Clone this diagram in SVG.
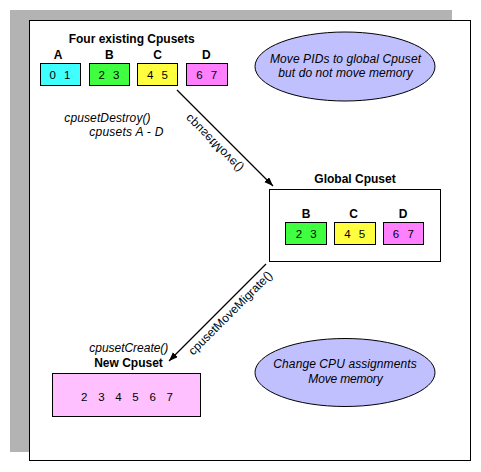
<svg xmlns="http://www.w3.org/2000/svg" width="481" height="472" viewBox="0 0 481 472">
<defs>
<style>
.t{font-family:"Liberation Sans",Arial,sans-serif;fill:#000}
.b{font-weight:bold;font-size:12px}
.i{font-style:italic;font-size:12px}
.n{font-size:11.5px;word-spacing:5px}
.box{stroke:#000;stroke-width:1}
.ell{fill:#C0C0FF;stroke:#000;stroke-width:1}
.con{stroke:#000;stroke-width:1.2;fill:none;marker-end:url(#ah)}
</style>
<marker id="ah" markerUnits="userSpaceOnUse" markerWidth="10" markerHeight="8" refX="9" refY="3.5" orient="auto">
<path d="M0,0 L9,3.5 L0,7 z" fill="#000"/>
</marker>
</defs>
<rect x="10" y="10" width="442" height="442" fill="#B3B3B3"/>
<rect x="29.5" y="20.5" width="441" height="440" fill="#fff" stroke="#000"/>

<g id="existing">
<text class="t b" x="131.7" y="43.3" text-anchor="middle">Four existing Cpusets</text>
<g id="A">
<text class="t b" x="58" y="58.7" text-anchor="middle">A</text>
<rect class="box" x="40.5" y="63.5" width="40" height="22" fill="#40FFFF"/>
<text class="t n" x="60" y="79.3" text-anchor="middle">0 1</text>
</g>
<g id="B">
<text class="t b" x="109.3" y="58.7" text-anchor="middle">B</text>
<rect class="box" x="89.5" y="63.5" width="40" height="22" fill="#40FF40"/>
<text class="t n" x="109" y="79.3" text-anchor="middle">2 3</text>
</g>
<g id="C">
<text class="t b" x="157.7" y="58.7" text-anchor="middle">C</text>
<rect class="box" x="137.5" y="63.5" width="40" height="22" fill="#FFFF40"/>
<text class="t n" x="157.5" y="79.3" text-anchor="middle">4 5</text>
</g>
<g id="D">
<text class="t b" x="206.3" y="58.7" text-anchor="middle">D</text>
<rect class="box" x="186.5" y="63.5" width="41" height="22" fill="#FF80FF"/>
<text class="t n" x="206.7" y="79.3" text-anchor="middle">6 7</text>
</g>
</g>

<g id="destroy">
<text class="t i" x="64.3" y="121.7" textLength="86.3">cpusetDestroy()</text>
<text class="t i" x="89.3" y="136" textLength="74">cpusets A - D</text>
</g>

<g id="note1">
<ellipse class="ell" cx="345" cy="66.5" rx="90" ry="34.5"/>
<text class="t i" x="345.5" y="63.3" text-anchor="middle" textLength="151">Move PIDs to global Cpuset</text>
<text class="t i" x="345.5" y="77.3" text-anchor="middle" textLength="134.3">but do not move memory</text>
</g>

<g id="global">
<text class="t b" x="355" y="183.3" text-anchor="middle">Global Cpuset</text>
<rect x="269.5" y="189.5" width="171" height="72" fill="#fff" stroke="#000"/>
<g id="gB">
<text class="t b" x="306" y="218.3" text-anchor="middle">B</text>
<rect class="box" x="285.5" y="222.5" width="41" height="22" fill="#40FF40"/>
<text class="t n" x="306.2" y="238.3" text-anchor="middle">2 3</text>
</g>
<g id="gC">
<text class="t b" x="353.7" y="218.3" text-anchor="middle">C</text>
<rect class="box" x="334.5" y="222.5" width="41" height="22" fill="#FFFF40"/>
<text class="t n" x="354.7" y="238.3" text-anchor="middle">4 5</text>
</g>
<g id="gD">
<text class="t b" x="403" y="218.3" text-anchor="middle">D</text>
<rect class="box" x="383.5" y="222.5" width="40" height="22" fill="#FF80FF"/>
<text class="t n" x="403.3" y="238.3" text-anchor="middle">6 7</text>
</g>
</g>

<g id="new">
<text class="t i" x="89.3" y="351.7" textLength="79">cpusetCreate()</text>
<text class="t b" x="128.5" y="366.7" text-anchor="middle">New Cpuset</text>
<rect class="box" x="52.5" y="373.5" width="148" height="43" fill="#FFC0FF"/>
<text class="t" x="127" y="400.7" text-anchor="middle" style="font-size:11.5px;word-spacing:7.5px">2 3 4 5 6 7</text>
</g>

<g id="note2">
<ellipse class="ell" cx="345" cy="372.5" rx="90" ry="34"/>
<text class="t i" x="345" y="368.3" text-anchor="middle" textLength="143.3">Change CPU assignments</text>
<text class="t i" x="345.5" y="382.7" text-anchor="middle" textLength="74.3">Move memory</text>
</g>

<g id="connectors">
<line class="con" x1="177" y1="90" x2="273" y2="186"/>
<text class="t" style="font-size:12px" transform="translate(190.1,113.7) rotate(45) scale(1,-1)" textLength="76">cpusetMove()</text>
<line class="con" x1="266" y1="264" x2="169" y2="361"/>
<text class="t" style="font-size:12px" transform="translate(193.3,355.7) rotate(-45)" textLength="113">cpusetMoveMigrate()</text>
</g>
</svg>
